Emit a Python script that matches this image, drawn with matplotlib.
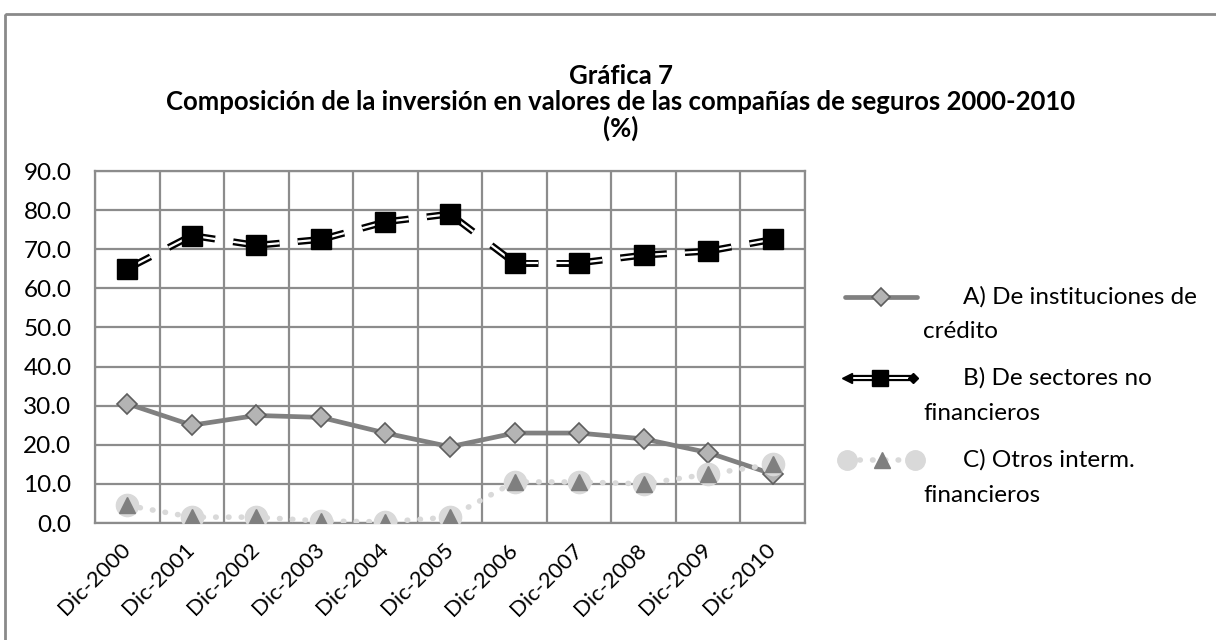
import numpy as np
import matplotlib.pyplot as plt
from matplotlib.lines import Line2D
from matplotlib.patches import Rectangle
from matplotlib.transforms import ScaledTranslation

plt.rcParams['font.family'] = ['Lato', 'DejaVu Sans']

# --- DATA ---
years = ['Dic-2000', 'Dic-2001', 'Dic-2002', 'Dic-2003', 'Dic-2004', 'Dic-2005',
         'Dic-2006', 'Dic-2007', 'Dic-2008', 'Dic-2009', 'Dic-2010']
credito = [30.5, 25.0, 27.5, 27.0, 23.0, 19.5, 23.0, 23.0, 21.5, 18.0, 12.5]
no_financieros = [65.0, 73.5, 71.0, 72.5, 77.0, 79.0, 66.5, 66.5, 68.5, 69.5, 72.5]
otros = [4.5, 1.5, 1.5, 0.5, 0.3, 1.5, 10.5, 10.5, 10.0, 12.5, 15.0]

labels = [('A) De instituciones de', 'crédito'),
          ('B) De sectores no', 'financieros'),
          ('C) Otros interm.', 'financieros')]
title_lines = ['Gráfica 7',
               'Composición de la inversión en valores de las compañías de seguros 2000-2010',
               '(%)']

GRID = '#8c8c8c'
A_COL = '#808080'
C_LINE = '#d9d9d9'
C_MARK = '#7f7f7f'

fig = plt.figure(figsize=(12.16, 6.4), dpi=100)
ax = fig.add_axes([95 / 1216, 1 - 523 / 640, 710 / 1216, 352 / 640])

x = np.arange(len(years))

# A) solid thick gray line with diamonds
ax.plot(x, credito, color=A_COL, lw=3.4, marker='D', ms=10, mfc='#b4b4b4',
        mec='#5e5e5e', mew=1.2, zorder=3, solid_capstyle='round')

# B) double-line stubs near each point + black squares
yb = np.array(no_financieros, dtype=float)
frac = 0.36
for i in range(len(x) - 1):
    x0, x1 = x[i], x[i + 1]
    y0, y1 = yb[i], yb[i + 1]
    for xs, ys in (([x0, x0 + frac * (x1 - x0)], [y0, y0 + frac * (y1 - y0)]),
                   ([x1 - frac * (x1 - x0), x1], [y1 - frac * (y1 - y0), y1])):
        ax.plot(xs, ys, color='black', lw=5, solid_capstyle='butt', zorder=4)
        ax.plot(xs, ys, color='white', lw=1.6, solid_capstyle='butt', zorder=4)
ax.plot(x, yb, ls='none', marker='s', ms=14, mfc='black', mec='black', zorder=5)

# C) light dotted line, triangle on light circle
ax.plot(x, otros, color=C_LINE, lw=4, ls=(0, (0.1, 2.2)), dash_capstyle='round', zorder=6)
ax.plot(x, otros, ls='none', marker='o', ms=16, mfc=C_LINE, mec=C_LINE, zorder=7)
ax.plot(x, otros, ls='none', marker='^', ms=11, mfc=C_MARK, mec=C_MARK, zorder=8)

ax.set_xlim(-0.5, len(x) - 0.5)
ax.set_ylim(0, 90)
ax.set_yticks(np.arange(0, 91, 10))
ax.set_yticklabels([f'{v:.1f}' for v in np.arange(0, 91, 10)], fontsize=17.5)
ax.set_xticks(x)
ax.set_xticklabels(years, rotation=45, ha='right', va='center', rotation_mode='anchor',
                   fontsize=16)
shift = ScaledTranslation(-13 / 100, 0, fig.dpi_scale_trans)
for lab in ax.get_xticklabels():
    lab.set_transform(lab.get_transform() + shift)
ax.set_xticks(np.arange(-0.5, len(x), 1), minor=True)
ax.tick_params(axis='x', which='both', length=0, pad=17)
ax.tick_params(axis='y', length=0, pad=17)
ax.grid(True, which='minor', axis='x', color=GRID, lw=1.6)
ax.grid(True, which='major', axis='y', color=GRID, lw=1.6)
for s in ax.spines.values():
    s.set_color(GRID)
    s.set_linewidth(1.6)
ax.set_axisbelow(True)

# overlay in pixel coordinates for title, legend and border
ov = fig.add_axes([0, 0, 1, 1], zorder=-1)
ov.set_xlim(0, 1216)
ov.set_ylim(640, 0)
ov.axis('off')
ov.add_patch(Rectangle((5, 14), 1240, 640, fill=False, ec='#8a8a8a', lw=2))
for yy, t in zip([76, 102, 128], title_lines):
    ov.text(621, yy, t, ha='center', va='center', fontsize=18.5, fontweight='bold')

leg = fig.add_axes([0, 0, 1, 1], zorder=10)
leg.set_xlim(0, 1216)
leg.set_ylim(640, 0)
leg.axis('off')
leg.patch.set_alpha(0)
ly = [297, 378, 460]
leg.add_line(Line2D([845, 917], [ly[0], ly[0]], color=A_COL, lw=3.4, solid_capstyle='round'))
leg.plot([881], [ly[0]], marker='D', ms=9, mfc='#b4b4b4', mec='#5e5e5e', mew=1.2)
for xa, xb in ((852, 872), (888, 910)):
    leg.add_line(Line2D([xa, xb], [ly[1], ly[1]], color='black', lw=4.5))
    leg.add_line(Line2D([xa, xb], [ly[1], ly[1]], color='white', lw=1.4))
leg.plot([847], [ly[1]], marker='<', ms=7, color='black')
leg.plot([913], [ly[1]], marker='D', ms=5, color='black')
leg.plot([880], [ly[1]], marker='s', ms=12, color='black')
leg.add_line(Line2D([847, 915], [ly[2], ly[2]], color=C_LINE, lw=4, ls=(0, (0.1, 2.2)),
                    dash_capstyle='round'))
leg.plot([847, 915], [ly[2], ly[2]], ls='none', marker='o', ms=14, color=C_LINE)
leg.plot([882], [ly[2]], marker='^', ms=11, color=C_MARK)
for yy, (l1, l2) in zip(ly, labels):
    leg.text(963, yy, l1, ha='left', va='center', fontsize=17.5)
    leg.text(923, yy + 35, l2, ha='left', va='center', fontsize=17.5)

fig.savefig('out.png', dpi=100)
